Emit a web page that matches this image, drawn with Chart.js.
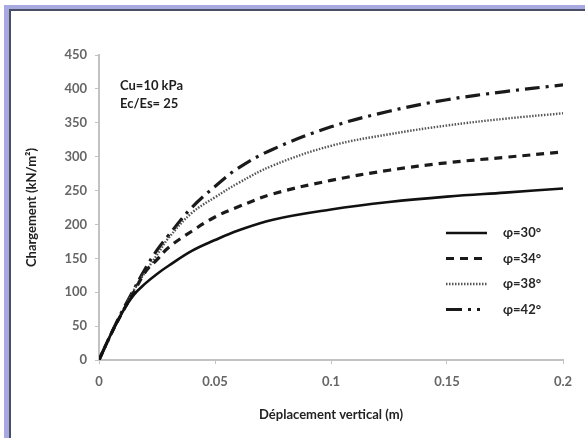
<!DOCTYPE html>
<html>
<head>
<meta charset="utf-8">
<title>Chargement - déplacement</title>
<script src="https://cdn.jsdelivr.net/npm/chart.js@4"></script>
<style>
  html, body { margin: 0; padding: 0; background: #fff; }
  #wrap { position: relative; width: 585px; height: 438px; }
</style>
</head>
<body>
<div id="wrap"><canvas id="chart" width="585" height="438"></canvas></div>
<script>
// displacement (m) at which each curve was read
const deplacement = [0, 0.005, 0.01, 0.015, 0.02, 0.025, 0.03, 0.04, 0.05, 0.06, 0.075, 0.1, 0.125, 0.15, 0.175, 0.2];

// load (kN/m²) for each friction angle
const phi30 = [0, 37, 70, 96, 113, 127, 139, 161, 177, 191, 207, 222, 233, 241, 247, 253];
const phi34 = [0, 37, 70, 100, 130, 148, 166, 190, 211, 226, 245, 265, 280, 291, 299, 307];
const phi38 = [0, 37, 70, 103, 130, 155, 180, 217, 240, 261, 287, 316, 333, 346, 356, 364];
const phi42 = [0, 37, 72, 104, 135, 162, 184, 225, 256, 283, 311, 344, 367, 384, 396, 406];

const seriesLabels = ["φ=30°", "φ=34°", "φ=38°", "φ=42°"];
const xTicks = [0, 0.05, 0.1, 0.15, 0.2];
const yTicks = [0, 50, 100, 150, 200, 250, 300, 350, 400, 450];
const noteLines = ["Cu=10 kPa", "Ec/Es= 25"];

Chart.defaults.font.family = "Lato, 'Open Sans', sans-serif";

function toPoints(values) {
  return values.map((v, i) => ({ x: deplacement[i], y: v }));
}

// light purple frame on the top and left edges
const framePlugin = {
  id: "frame",
  beforeDraw(chart) {
    const ctx = chart.ctx;
    ctx.save();
    ctx.fillStyle = "#fff";
    ctx.fillRect(0, 0, chart.width, chart.height);
    ctx.fillStyle = "#a9a9e2";
    ctx.fillRect(4, 5, chart.width - 4, 5);
    ctx.fillRect(4, 5, 5, chart.height - 5);
    ctx.fillStyle = "#4a4f66";
    ctx.fillRect(9, 9, chart.width - 9, 2);
    ctx.fillRect(9, 9, 2, chart.height - 9);
    ctx.restore();
  }
};

// parameters box in the upper left
const notePlugin = {
  id: "note",
  afterDraw(chart) {
    const ctx = chart.ctx;
    ctx.save();
    ctx.fillStyle = "#1e1e1e";
    ctx.font = "bold 13px Lato, sans-serif";
    ctx.textBaseline = "middle";
    noteLines.forEach((t, i) => ctx.fillText(t, 120, 86 + i * 18));
    ctx.restore();
  }
};

// legend with line samples, lower right inside the plot
const lineLegend = {
  id: "lineLegend",
  afterDraw(chart) {
    const ctx = chart.ctx;
    ctx.save();
    chart.data.datasets.forEach((ds, i) => {
      const y = 233 + i * 25.5;
      ctx.beginPath();
      ctx.setLineDash(ds.legendDash || ds.borderDash || []);
      ctx.lineWidth = ds.borderWidth;
      ctx.strokeStyle = ds.borderColor;
      ctx.moveTo(446, y);
      ctx.lineTo(487, y);
      ctx.stroke();
      ctx.setLineDash([]);
      ctx.fillStyle = "#262626";
      ctx.font = "bold 13px Lato, sans-serif";
      ctx.textBaseline = "middle";
      ctx.fillText(ds.label, 503, y);
    });
    ctx.restore();
  }
};

const axisGrey = "#c2c2c2";

new Chart(document.getElementById("chart"), {
  type: "line",
  data: {
    datasets: [
      { label: seriesLabels[0], data: toPoints(phi30), borderColor: "#111", borderWidth: 2.6, borderDash: [] },
      { label: seriesLabels[1], data: toPoints(phi34), borderColor: "#1a1a1a", borderWidth: 3.2, borderDash: [8, 6] },
      { label: seriesLabels[2], data: toPoints(phi38), borderColor: "#555", borderWidth: 2.4, borderDash: [1.5, 1.5] },
      { label: seriesLabels[3], data: toPoints(phi42), borderColor: "#1a1a1a", borderWidth: 3.2, borderDash: [15, 6, 3, 6], legendDash: [16, 6, 3, 6, 3, 40] }
    ]
  },
  options: {
    responsive: false,
    animation: false,
    layout: { padding: { top: 55, right: 22, bottom: 0, left: 0 } },
    elements: {
      point: { radius: 0 },
      line: { tension: 0.4, fill: false, borderCapStyle: "butt" }
    },
    plugins: { legend: { display: false }, tooltip: { enabled: false } },
    scales: {
      x: {
        type: "linear",
        min: 0,
        max: 0.2,
        afterFit: s => { s.height = 78; },
        afterBuildTicks: s => { s.ticks = xTicks.map(v => ({ value: v })); },
        ticks: {
          color: "#666",
          font: { size: 13, weight: "bold" },
          padding: 10,
          callback: v => String(v)
        },
        grid: { drawOnChartArea: false, drawTicks: true, tickLength: 4, color: axisGrey },
        border: { color: axisGrey, width: 2 },
        title: {
          display: true,
          text: "Déplacement vertical (m)",
          color: "#222",
          font: { size: 13, weight: "bold" },
          padding: { bottom: 15 }
        }
      },
      y: {
        min: 0,
        max: 450,
        afterFit: s => { s.width = 99; },
        afterBuildTicks: s => { s.ticks = yTicks.map(v => ({ value: v })); },
        ticks: { color: "#666", font: { size: 13, weight: "bold" }, padding: 8 },
        grid: { drawOnChartArea: false, drawTicks: true, tickLength: 4, color: axisGrey },
        border: { color: axisGrey, width: 2 },
        title: {
          display: true,
          text: "Chargement (kN/m²)",
          color: "#222",
          font: { size: 13, weight: "bold" },
          padding: { top: 24 }
        }
      }
    }
  },
  plugins: [framePlugin, notePlugin, lineLegend]
});
</script>
</body>
</html>
